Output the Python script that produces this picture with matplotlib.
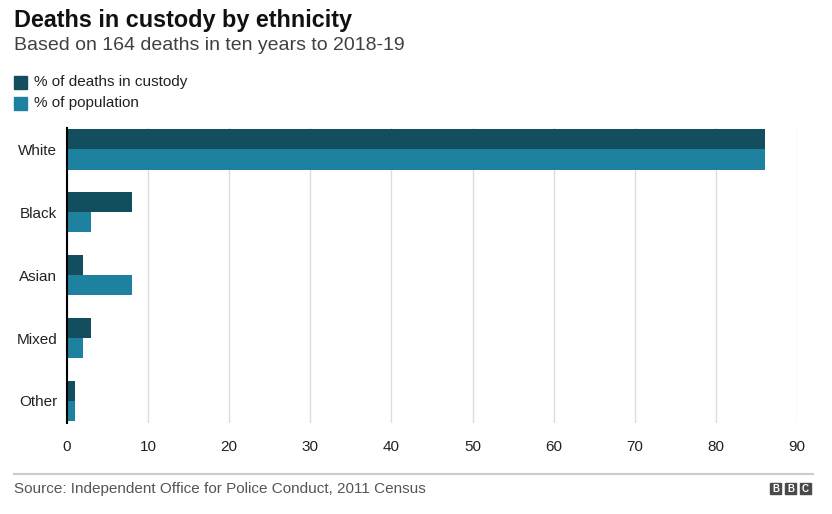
import matplotlib
matplotlib.use("Agg")
import matplotlib.pyplot as plt
from matplotlib.patches import Rectangle
import numpy as np

plt.rcParams['font.family'] = ['Liberation Sans', 'DejaVu Sans']

# data
groups = ["White", "Black", "Asian", "Mixed", "Other"]
deaths = [86, 8, 2, 3, 1]
population = [86, 3, 8, 2, 1]
xticks = [0, 10, 20, 30, 40, 50, 60, 70, 80, 90]

dark = "#134e5e"
light = "#1e81a0"

fig = plt.figure(figsize=(8.32, 5.14), dpi=100)
W, H = 832, 514

ax = fig.add_axes([67 / W, 1 - 423 / H, (797 - 67) / W, (423 - 128) / H])
y = np.arange(len(groups))
h = 0.32
ax.barh(y - h / 2, deaths, height=h, color=dark, zorder=3)
ax.barh(y + h / 2, population, height=h, color=light, zorder=3)

ax.set_xlim(0, 90)
ax.set_ylim(len(groups) - 1 + 0.35, -0.34)
ax.set_xticks(xticks)
ax.set_xticklabels([str(t) for t in xticks], fontsize=11, color="#222222")
ax.set_yticks(y)
ax.set_yticklabels(groups, fontsize=11, color="#222222")
ax.tick_params(axis="y", length=0, pad=7)
ax.tick_params(axis="x", length=0, pad=12)
ax.grid(axis="x", color="#dddddd", linewidth=1, zorder=0)
for s in ["top", "right", "bottom"]:
    ax.spines[s].set_visible(False)
ax.spines["left"].set_color("black")
ax.spines["left"].set_linewidth(1.5)
ax.spines["left"].set_zorder(4)

# titles
fig.text(14 / W, 1 - 20 / H, "Deaths in custody by ethnicity", fontsize=16.8,
         fontweight="bold", va="center", ha="left", color="#111111")
fig.text(14 / W, 1 - 46 / H, "Based on 164 deaths in ten years to 2018-19", fontsize=14,
         va="center", ha="left", color="#404040")

# legend
for i, (lab, c) in enumerate([("% of deaths in custody", dark), ("% of population", light)]):
    yc = 82 + i * 21
    fig.patches.append(Rectangle((14 / W, 1 - (yc + 7) / H), 13 / W, 13 / H,
                                 transform=fig.transFigure, color=c))
    fig.text(34 / W, 1 - yc / H, lab, fontsize=11, va="center", ha="left", color="#222222")

# footer
fig.add_artist(plt.Line2D([14 / W, 813 / W], [1 - 474 / H, 1 - 474 / H],
                          color="#cccccc", linewidth=1.5))
fig.text(14 / W, 1 - 489 / H, "Source: Independent Office for Police Conduct, 2011 Census",
         fontsize=11, va="center", ha="left", color="#555555")
for i, ch in enumerate("BBC"):
    x0 = 770 + i * 15
    fig.patches.append(Rectangle((x0 / W, 1 - 494 / H), 11 / W, 11 / H,
                                 transform=fig.transFigure, color="#4a4a4a"))
    fig.text((x0 + 5.5) / W, 1 - 488.5 / H, ch, fontsize=7, fontweight="bold",
             color="white", va="center", ha="center")

fig.savefig("out.png", dpi=100, facecolor="white")
